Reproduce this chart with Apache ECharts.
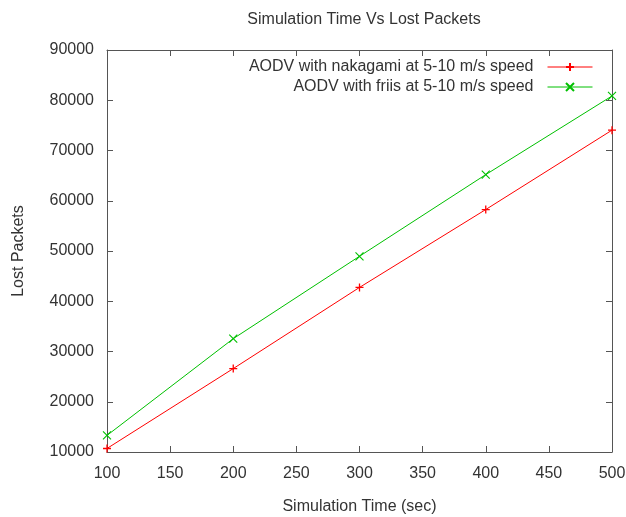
<!DOCTYPE html>
<html>
<head>
<meta charset="utf-8">
<script src="https://cdn.jsdelivr.net/npm/echarts@6/dist/echarts.min.js"></script>
<style>html,body{margin:0;padding:0;background:#fff;}#c{width:626px;height:517px;}</style>
</head>
<body>
<div id="c"></div>
<script>
const times = [100, 200, 300, 400, 500];
const nakagami = [10700, 26600, 42750, 58250, 74050];
const friis = [13300, 32550, 48950, 65200, 80850];
const seriesNames = ['AODV with nakagami at 5-10 m/s speed', 'AODV with friis at 5-10 m/s speed'];
const titleText = 'Simulation Time Vs Lost Packets';
const xName = 'Simulation Time (sec)';
const yName = 'Lost Packets';

const FONT = 'Liberation Sans';
const TXT = '#333';
const AX = '#555';
const chart = echarts.init(document.getElementById('c'), null, {renderer: 'canvas'});
const plusPath = 'path://M5,0L5,10M0,5L10,5';
const crossPath = 'path://M0,0L10,10M10,0L0,10';

function mirrorX(pos, showLabel) {
  return {
    type: 'value', position: pos, min: 100, max: 500, interval: 50,
    axisLine: {show: true, onZero: false, lineStyle: {color: AX, width: 1}},
    axisTick: {show: true, inside: true, length: 6, lineStyle: {color: AX}},
    axisLabel: {show: showLabel, margin: 14, color: TXT, fontFamily: FONT, fontSize: 16,
      formatter: v => String(v)},
    splitLine: {show: false}
  };
}
function mirrorY(pos, showLabel) {
  return {
    type: 'value', position: pos, min: 10000, max: 90000, interval: 10000,
    axisLine: {show: true, onZero: false, lineStyle: {color: AX, width: 1}},
    axisTick: {show: true, inside: true, length: 6, lineStyle: {color: AX}},
    axisLabel: {show: showLabel, margin: 13, color: TXT, fontFamily: FONT, fontSize: 16,
      formatter: v => String(v)},
    splitLine: {show: false}
  };
}
const xb = mirrorX('bottom', true);
xb.name = xName; xb.nameLocation = 'middle'; xb.nameGap = 47;
xb.nameTextStyle = {color: TXT, fontFamily: FONT, fontSize: 16};
const yl = mirrorY('left', true);
yl.name = yName; yl.nameLocation = 'middle'; yl.nameGap = 80;
yl.nameTextStyle = {color: TXT, fontFamily: FONT, fontSize: 16};

chart.setOption({
  animation: false,
  backgroundColor: '#fff',
  title: {text: titleText, left: 359, textAlign: 'center', top: 7,
    textStyle: {color: TXT, fontFamily: FONT, fontSize: 16, fontWeight: 'normal'}},
  grid: {left: 107, right: 14, top: 50, bottom: 65, containLabel: false, outerBoundsMode: 'none'},
  legend: {
    orient: 'vertical', right: 28, top: 54, align: 'right',
    itemWidth: 45, itemHeight: 10, itemGap: 4,
    lineStyle: {width: 1},
    textStyle: {color: TXT, fontFamily: FONT, fontSize: 16, padding: [0, 9, 0, 0]},
    data: seriesNames
  },
  xAxis: [xb, mirrorX('top', false)],
  yAxis: [yl, mirrorY('right', false)],
  series: [
    {name: seriesNames[0], type: 'line', data: times.map((t, i) => [t, nakagami[i]]),
      symbol: plusPath, symbolSize: 8, showAllSymbol: true,
      lineStyle: {color: '#ff0000', width: 1},
      itemStyle: {color: '#ff0000', borderColor: '#ff0000', borderWidth: 1.3}},
    {name: seriesNames[1], type: 'line', data: times.map((t, i) => [t, friis[i]]),
      symbol: crossPath, symbolSize: 8, showAllSymbol: true,
      lineStyle: {color: '#00c000', width: 1},
      itemStyle: {color: '#00c000', borderColor: '#00c000', borderWidth: 1.1}}
  ]
});
</script>
</body>
</html>
